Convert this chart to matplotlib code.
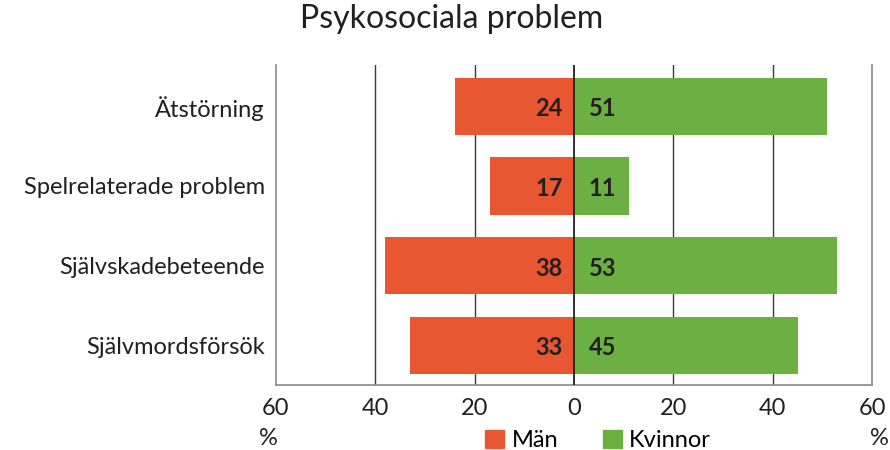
import matplotlib.pyplot as plt
from matplotlib.patches import Patch

plt.rcParams['font.family'] = ['Lato', 'DejaVu Sans']

kategorier = ['Ätstörning', 'Spelrelaterade problem', 'Självskadebeteende', 'Självmordsförsök']
man = [24, 17, 38, 33]
kvinnor = [51, 11, 53, 45]
ticks = [-60, -40, -20, 0, 20, 40, 60]
tick_labels = ['60', '40', '20', '0', '20', '40', '60']

rod = '#E85731'
gron = '#6CB043'
svart = '#231f20'

fig = plt.figure(figsize=(8.9, 4.5), dpi=100)
ax = fig.add_axes([0.310, 0.144, 0.670, 0.712])

y = list(range(len(kategorier)))
ax.barh(y, [-v for v in man], height=0.72, color=rod, zorder=2)
ax.barh(y, kvinnor, height=0.72, color=gron, zorder=2)

# värden inne i staplarna
for i in y:
    ax.text(-2.3, i + 0.03, str(man[i]), ha='right', va='center', fontsize=17,
            fontweight='bold', color=svart, zorder=4)
    ax.text(3.0, i + 0.03, str(kvinnor[i]), ha='left', va='center', fontsize=17,
            fontweight='bold', color=svart, zorder=4)

for t in [-40, -20, 20, 40]:
    ax.axvline(t, color='#3a3a3a', lw=1.0, zorder=1)
ax.axvline(0, color=svart, lw=1.3, zorder=3)

ax.set_xlim(-60, 60)
ax.set_ylim(3.5, -0.52)
ax.set_yticks(y)
ax.set_yticklabels(kategorier, fontsize=17, color=svart)
ax.set_xticks(ticks)
ax.set_xticklabels(tick_labels, fontsize=17, color=svart)
ax.tick_params(axis='y', length=0, pad=8)
ax.tick_params(axis='x', length=0, pad=9)

for s in ['left', 'right', 'bottom']:
    ax.spines[s].set_color('#8a8a8a')
    ax.spines[s].set_linewidth(1.2)
ax.spines['top'].set_visible(False)

fig.text(0.302, 0.012, '%', fontsize=17, ha='center', color=svart)
fig.text(0.988, 0.012, '%', fontsize=17, ha='center', color=svart)

fig.suptitle('Psykosociala problem', fontsize=23, y=0.99, x=0.508, color=svart)

handles = [Patch(color=rod, label='Män'), Patch(color=gron, label='Kvinnor')]
fig.legend(handles=handles, loc='lower center', bbox_to_anchor=(0.672, -0.05), ncol=2,
           frameon=False, fontsize=17, handlelength=0.8, handleheight=0.8,
           handletextpad=0.3, columnspacing=1.9)

fig.savefig('out.png', dpi=100)
